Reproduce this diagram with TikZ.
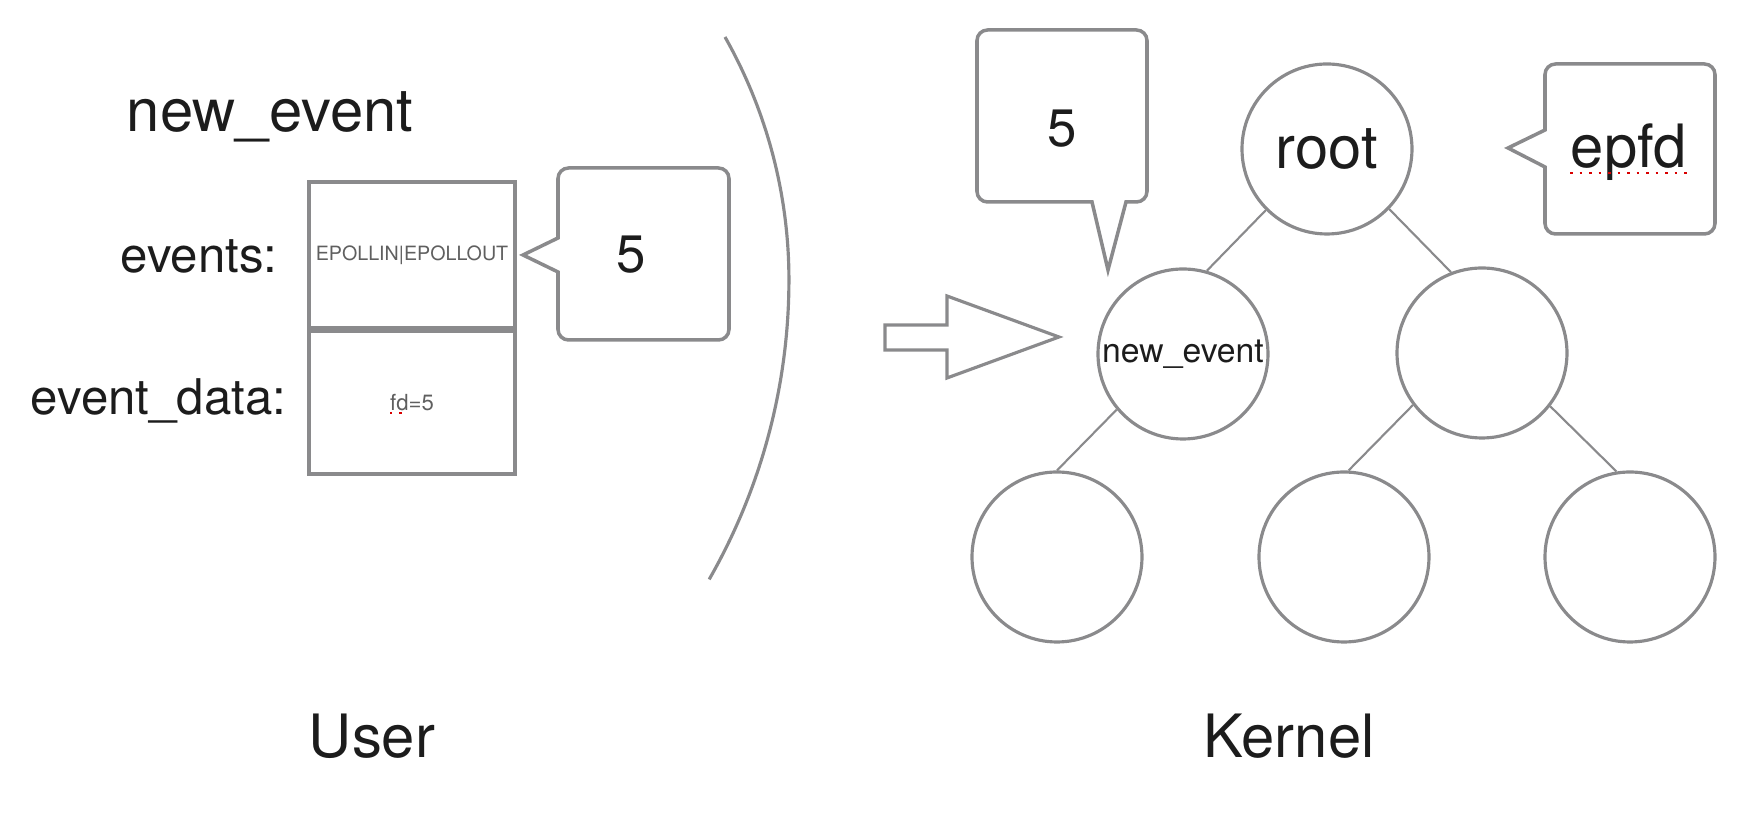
\documentclass[tikz,border=0pt]{standalone}
\usepackage{fontspec}
\setmainfont{TeX Gyre Heros}
\usetikzlibrary{calc}
\definecolor{linegray}{RGB}{138,138,140}
\definecolor{textdark}{RGB}{28,28,28}
\definecolor{flaggray}{RGB}{95,95,95}

\begin{document}
\begin{tikzpicture}[
		line/.style={draw=linegray, line width=0.9pt},
		field/.style={draw=linegray, line width=1.15pt, minimum width=2.06cm, inner sep=0pt, text=flaggray},
		treenode/.style={circle, draw=linegray, line width=0.9pt, minimum size=1.70cm, inner sep=0pt, text=textdark},
		branch/.style={draw=linegray, line width=0.6pt},
		bubble/.style={draw=linegray, line width=1pt},
		big/.style={font=\fontsize{17}{20}\selectfont, text=textdark, inner sep=0pt},
		mid/.style={font=\fontsize{14}{17}\selectfont, text=textdark, inner sep=0pt},
		five/.style={font=\fontsize{15}{18}\selectfont, text=textdark, inner sep=0pt},
		spell/.style={draw=red!85!black, line width=0.7pt, dotted}
	]
	\useasboundingbox (0,0) rectangle (17.48,8.2);

	\node[big, anchor=base] (title) at (2.70,6.88) {new\_event};
	\node[mid, anchor=base east] (evlbl) at (2.78,5.47) {events:};
	\node[mid, anchor=base east] (dtlbl) at (2.87,4.05) {event\_data:};
	\node[field, minimum height=1.465cm, font=\fontsize{5.6}{6}\selectfont] (ev) at (4.12,5.6475) {EPOLLIN|EPOLLOUT};
	\node[field, minimum height=1.435cm, font=\fontsize{6.3}{7}\selectfont] (dt) at (4.12,4.1775) {fd=5};
	\draw[spell] ($(dt)+(-0.22,-0.11)$) -- ($(dt)+(-0.04,-0.11)$);

	\draw[bubble] (5.58,5.82) -- (5.23,5.65) -- (5.58,5.48) [rounded corners=3pt] -- (5.58,4.80) -- (7.29,4.80) -- (7.29,6.52) -- (5.58,6.52) [sharp corners] -- cycle;
	\node[five, anchor=base] (ufive) at (6.31,5.47) {5};

	\draw[line] (7.25,7.83) arc[start angle=29.5, end angle=0, radius=4.93] arc[start angle=0, end angle=-29.8, radius=6.03];

	\draw[line] (8.85,4.95) -- (9.47,4.95) -- (9.47,5.24) -- (10.59,4.83) -- (9.47,4.42) -- (9.47,4.70) -- (8.85,4.70) -- cycle;

	\node[treenode, font=\fontsize{17}{20}\selectfont] (root) at (13.27,6.71) {root};
	\node[treenode, font=\fontsize{9.6}{11}\selectfont] (ne) at (11.83,4.66) {new\_event};
	\node[treenode] (rt) at (14.82,4.67) {};
	\node[treenode] (b1) at (10.57,2.63) {};
	\node[treenode] (b2) at (13.44,2.63) {};
	\node[treenode] (b3) at (16.30,2.63) {};
	\draw[branch] (root.225) -- (ne.74);
	\draw[branch] (root.316) -- (rt.111);
	\draw[branch] (ne.220) -- (b1.90);
	\draw[branch] (rt.217) -- (b2.87);
	\draw[branch] (rt.322) -- (b3.99);

	\draw[bubble] (11.26,6.18) -- (11.08,5.50) -- (10.92,6.18) [rounded corners=3pt] -- (9.77,6.18) -- (9.77,7.90) -- (11.47,7.90) -- (11.47,6.18) [sharp corners] -- cycle;
	\node[five, anchor=base] (kfive) at (10.62,6.73) {5};

	\draw[bubble] (15.45,6.90) -- (15.08,6.72) -- (15.45,6.53) [rounded corners=3pt] -- (15.45,5.86) -- (17.15,5.86) -- (17.15,7.56) -- (15.45,7.56) [sharp corners] -- cycle;
	\node[big, anchor=base] (epfd) at (16.29,6.52) {epfd};
	\draw[spell] ($(epfd.base west)+(0,-0.05)$) -- ($(epfd.base east)+(0,-0.05)$);

	\node[big, anchor=base] (user) at (3.72,0.62) {User};
	\node[big, anchor=base] (kernel) at (12.89,0.62) {Kernel};
\end{tikzpicture}
\end{document}
